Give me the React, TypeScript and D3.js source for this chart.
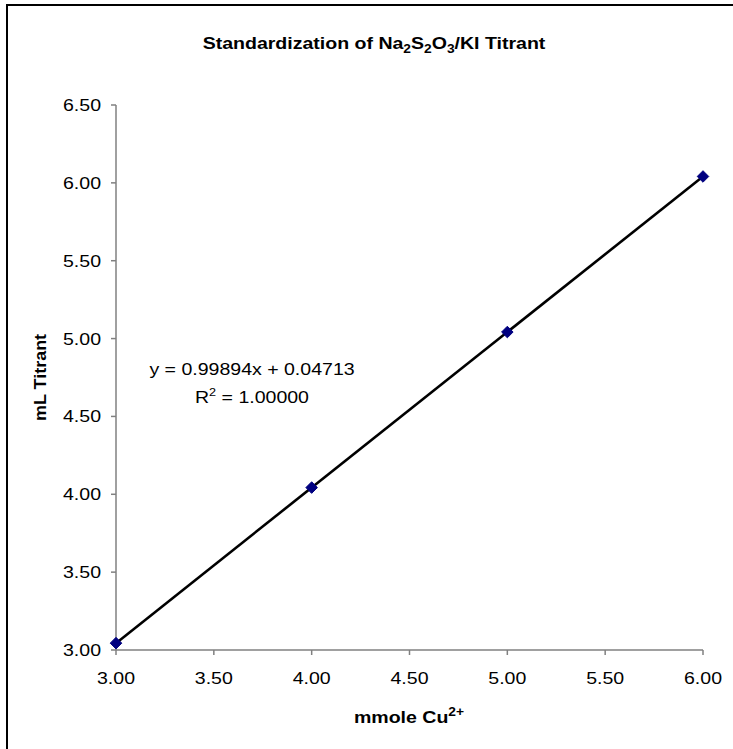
import React from "react";
import * as d3 from "d3";

const mmoleCu = [3.0, 4.0, 5.0, 6.0];
const mLTitrant = [3.044, 4.043, 5.042, 6.041];
const xTicks = [3.0, 3.5, 4.0, 4.5, 5.0, 5.5, 6.0];
const yTicks = [3.0, 3.5, 4.0, 4.5, 5.0, 5.5, 6.0, 6.5];
const equationText = "y = 0.99894x + 0.04713";
const r2Value = "1.00000";

const W = 733;
const H = 749;
const left = 116;
const right = 703;
const top = 105;
const bottom = 650;
const SX = 1.15;
const FONT = "'Liberation Sans', Arial, sans-serif";

export default function App() {
  const x = d3.scaleLinear().domain([3, 6]).range([left, right]);
  const y = d3.scaleLinear().domain([3, 6.5]).range([bottom, top]);

  const mx = d3.mean(mmoleCu)!;
  const my = d3.mean(mLTitrant)!;
  const slope =
    d3.sum(mmoleCu.map((v, i) => (v - mx) * (mLTitrant[i] - my))) /
    d3.sum(mmoleCu.map((v) => (v - mx) * (v - mx)));
  const intercept = my - slope * mx;
  const trend = d3
    .line<number>()
    .x((d) => x(d))
    .y((d) => y(slope * d + intercept))([3, 6]);

  const diamond = d3.symbol().type(d3.symbolDiamond2).size(85)();

  const stretch = (tx: number, ty: number, extra = "") =>
    `translate(${tx},${ty}) ${extra} scale(${SX},1)`;

  return (
    <svg
      width={W}
      height={H}
      style={{ position: "absolute", left: 0, top: 0, background: "#fff" }}
      fontFamily={FONT}
    >
      <rect x={0} y={0} width={W} height={H} fill="#fff" />
      <rect x={7} y={5} width={W + 50} height={H + 50} fill="none" stroke="#000" strokeWidth={2} />

      {/* Title */}
      <text transform={stretch(374, 49)} textAnchor="middle" fontSize={17} fontWeight="bold">
        Standardization of Na
        <tspan dy={4} fontSize={12}>2</tspan>
        <tspan dy={-4}>S</tspan>
        <tspan dy={4} fontSize={12}>2</tspan>
        <tspan dy={-4}>O</tspan>
        <tspan dy={4} fontSize={12}>3</tspan>
        <tspan dy={-4}>/KI Titrant</tspan>
      </text>

      {/* Axes */}
      <line x1={left} x2={left} y1={top} y2={bottom} stroke="#808080" strokeWidth={1.5} />
      <line x1={left} x2={right} y1={bottom} y2={bottom} stroke="#808080" strokeWidth={1.5} />
      {yTicks.map((t) => (
        <g key={"y" + t}>
          <line x1={left - 5} x2={left} y1={y(t)} y2={y(t)} stroke="#808080" strokeWidth={1.5} />
          <text transform={stretch(left - 15, y(t) + 6)} textAnchor="end" fontSize={17}>
            {t.toFixed(2)}
          </text>
        </g>
      ))}
      {xTicks.map((t) => (
        <g key={"x" + t}>
          <line x1={x(t)} x2={x(t)} y1={bottom} y2={bottom + 5} stroke="#808080" strokeWidth={1.5} />
          <text transform={stretch(x(t), bottom + 34)} textAnchor="middle" fontSize={17}>
            {t.toFixed(2)}
          </text>
        </g>
      ))}

      {/* Axis titles */}
      <text transform={stretch(409, 723)} textAnchor="middle" fontSize={17} fontWeight="bold">
        mmole Cu
        <tspan dy={-7} fontSize={12}>2+</tspan>
      </text>
      <text
        transform={`translate(46,${(top + bottom) / 2}) rotate(-90) scale(${SX * 0.92},1)`}
        textAnchor="middle"
        fontSize={17}
        fontWeight="bold"
      >
        mL Titrant
      </text>

      {/* Trendline */}
      <path d={trend ?? ""} fill="none" stroke="#000" strokeWidth={2.6} />

      {/* Points */}
      {mmoleCu.map((v, i) => (
        <path
          key={"p" + i}
          d={diamond ?? ""}
          transform={`translate(${x(v)},${y(mLTitrant[i])})`}
          fill="#000080"
          stroke="#000080"
          strokeWidth={1}
        />
      ))}

      {/* Equation */}
      <text transform={stretch(252, 375)} textAnchor="middle" fontSize={17}>
        {equationText}
      </text>
      <text transform={stretch(252, 403)} textAnchor="middle" fontSize={17}>
        R<tspan dy={-7} fontSize={11}>2</tspan>
        <tspan dy={7}>{" = " + r2Value}</tspan>
      </text>
    </svg>
  );
}
